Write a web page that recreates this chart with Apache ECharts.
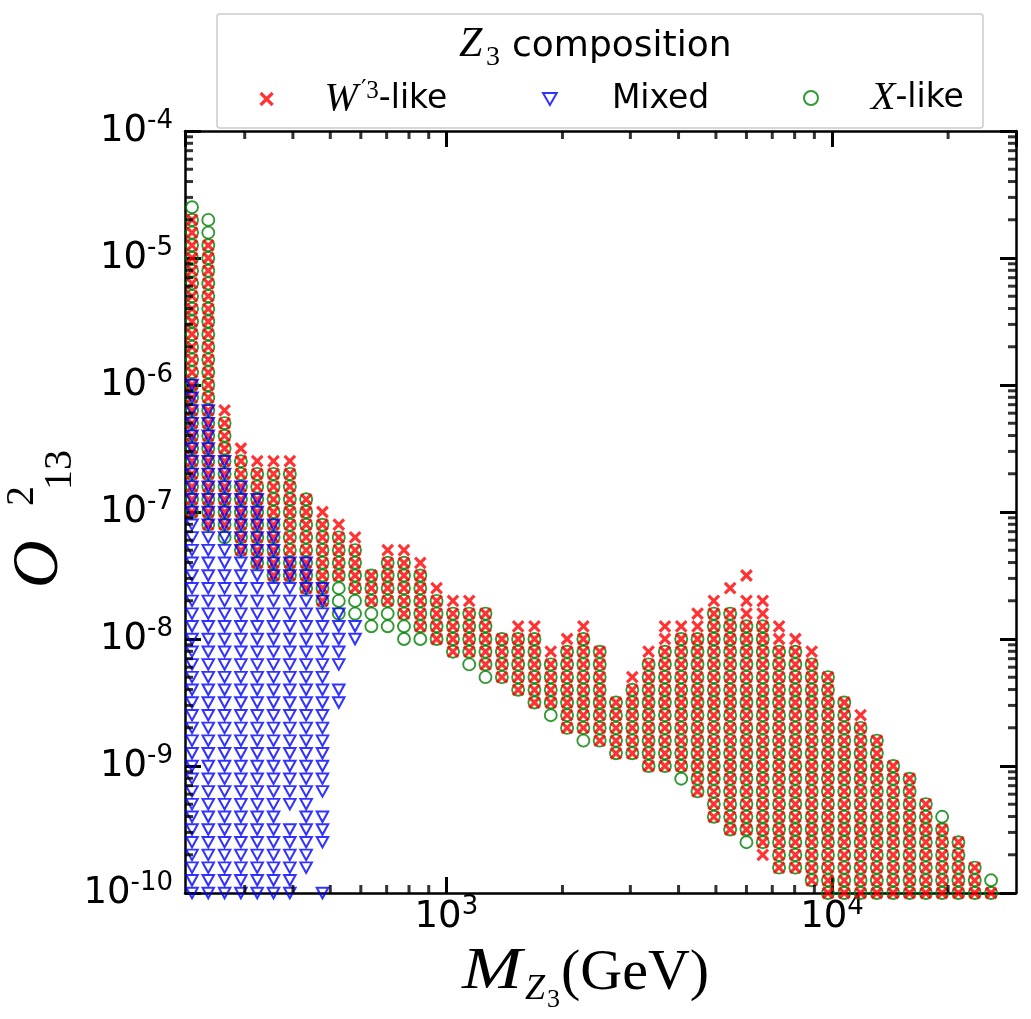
<!DOCTYPE html>
<html>
<head>
<meta charset="utf-8">
<script src="https://cdn.jsdelivr.net/npm/echarts@6.0.0/dist/echarts.min.js"></script>
<style>
html,body{margin:0;padding:0;background:#ffffff;}
#chart{width:1031px;height:1019px;}
</style>
</head>
<body>
<div id="chart"></div>
<script>
// Mass grid of the scan (GeV): one entry per column of markers
const massGeV = [219.0, 241.3, 266.0, 293.2, 323.2, 356.3, 392.7, 432.9, 477.2, 526.0,
  579.7, 639.0, 704.4, 776.4, 855.8, 943.3, 1040, 1146, 1263, 1393,
  1535, 1692, 1865, 2056, 2266, 2498, 2753, 3035, 3345, 3687,
  4064, 4480, 4938, 5443, 6000, 6613, 7289, 8035, 8856, 9762,
  10760, 11860, 13070, 14410, 15890, 17510, 19300, 21270, 23450, 25850];

// Visible markers per mass column, written as runs [lowest, highest] of 10*log10(O13^2);
// the scan has one point every 0.1 decade inside each run.
const wPrimeLikeRuns = [
  [[-70,-47]], [[-71,-49]], [[-71,-62]], [[-73,-65]], [[-74,-66]],
  [[-75,-66]], [[-75,-66]], [[-76,-69]], [[-77,-70]], [[-75,-71]],
  [[-76,-72]], [[-77,-75]], [[-77,-73]], [[-78,-73]], [[-79,-74]],
  [[-80,-76]], [[-81,-77]], [[-81,-77]], [[-82,-78]], [[-83,-80]],
  [[-84,-79]], [[-85,-79]], [[-85,-81]], [[-87,-80]], [[-87,-79]],
  [[-88,-81]], [[-89,-85]], [[-89,-83]], [[-90,-81]], [[-90,-79]],
  [[-90,-79]], [[-92,-78]], [[-94,-77]], [[-95,-78],[-76,-76]], [[-95,-77],[-75,-75]],
  [[-97,-77]], [[-98,-79]], [[-98,-80]], [[-99,-81]], [[-100,-83]],
  [[-100,-85]], [[-100,-86]], [[-100,-88]], [[-100,-90]], [[-100,-91]],
  [[-100,-93]], [[-100,-95]], [[-100,-96]], [[-100,-98]], [[-100,-100]]
];
const mixedRuns = [
  [[-100,-60]], [[-100,-62]], [[-100,-66]], [[-100,-68]], [[-100,-69]],
  [[-100,-71]], [[-100,-95],[-93,-74]], [[-98,-74]], [[-100,-100],[-96,-94],[-92,-76]], [[-85,-84],[-82,-78]],
  [[-80,-79]]
];
const xLikeRuns = [
  [[-70,-46]], [[-71,-47]], [[-72,-63]], [[-73,-66]], [[-74,-67]],
  [[-75,-67]], [[-75,-67]], [[-76,-69]], [[-77,-71]], [[-78,-72]],
  [[-78,-73]], [[-79,-75]], [[-79,-74]], [[-80,-74]], [[-80,-75]],
  [[-80,-77]], [[-81,-78]], [[-82,-78]], [[-83,-78]], [[-83,-80]],
  [[-84,-80]], [[-85,-80]], [[-86,-82]], [[-87,-81]], [[-88,-80]],
  [[-88,-81]], [[-89,-85]], [[-89,-84]], [[-90,-82]], [[-90,-81]],
  [[-91,-80]], [[-92,-80]], [[-94,-78]], [[-95,-78]], [[-96,-79]],
  [[-96,-79]], [[-98,-81]], [[-98,-81]], [[-99,-82]], [[-100,-83]],
  [[-100,-85]], [[-100,-87]], [[-100,-88]], [[-100,-90]], [[-100,-91]],
  [[-100,-93]], [[-100,-94]], [[-100,-96]], [[-100,-98]], [[-100,-99]]
];

// Axis ranges and ticks
const xRange = [210, 30000];
const yRange = [1e-10, 1e-4];
const xMinorTicks = [300, 400, 500, 600, 700, 800, 900, 2000, 3000, 4000, 5000, 6000, 7000, 8000, 9000, 20000];
const yMinorMantissas = [2, 3, 4, 5, 6, 7, 8, 9];
const yDecadeExponents = [-10, -9, -8, -7, -6, -5];
const legendNames = ['W-like', 'Mixed', 'X-like'];

function expand(runs) {
  const pts = [];
  runs.forEach(function (colRuns, i) {
    colRuns.forEach(function (run) {
      for (let t = run[0]; t <= run[1]; t++) pts.push([massGeV[i], Math.pow(10, t / 10)]);
    });
  });
  return pts;
}
const yMinorTicks = [];
yDecadeExponents.forEach(function (e) {
  yMinorMantissas.forEach(function (m) { yMinorTicks.push(m * Math.pow(10, e)); });
});

const FONT = 'DejaVu Sans';
const SERIF = 'Liberation Serif';

function powLabel(v) {
  const l = Math.log10(v);
  const e = Math.round(l);
  if (Math.abs(l - e) > 1e-6) return '';
  return '{b|10}{s|' + e + '}';
}
const labelRich = {
  b: {fontFamily: FONT, fontSize: 37, lineHeight: 46, color: '#000'},
  s: {fontFamily: FONT, fontSize: 26, lineHeight: 26, verticalAlign: 'top', color: '#000'}
};
const spine = {show: true, onZero: false, lineStyle: {color: '#000', width: 2.5}};
const majorTick = {show: true, inside: true, length: 16, lineStyle: {color: '#000', width: 3}};

function mt(str, x, baseline, size, family, italic, sx) {
  return {
    type: 'text', x: x, y: baseline - 0.34 * size, scaleX: sx || 1, silent: true,
    style: {text: str, fontSize: size, fontFamily: family, fontStyle: italic ? 'italic' : 'normal',
      fill: '#000', align: 'left', verticalAlign: 'middle'}
  };
}

const tickSeriesBase = {type: 'scatter', silent: true, clip: false, symbol: 'rect', z: 8,
  itemStyle: {color: '#000'}, emphasis: {disabled: true}, animation: false};

const chart = echarts.init(document.getElementById('chart'), null, {renderer: 'canvas'});
chart.setOption({
  backgroundColor: '#ffffff',
  animation: false,
  grid: {left: 185, right: 15, top: 131, bottom: 126, containLabel: false, outerBoundsMode: 'none'},
  xAxis: [
    {type: 'log', logBase: 10, min: xRange[0], max: xRange[1], position: 'bottom',
      axisLine: spine, axisTick: majorTick, splitLine: {show: false},
      axisLabel: {show: true, margin: 1, formatter: powLabel, rich: labelRich, showMinLabel: false, showMaxLabel: false}},
    {type: 'log', logBase: 10, min: xRange[0], max: xRange[1], position: 'top',
      axisLine: spine, axisTick: majorTick, splitLine: {show: false}, axisLabel: {show: false}}
  ],
  yAxis: [
    {type: 'log', logBase: 10, min: yRange[0], max: yRange[1], position: 'left',
      axisLine: spine, axisTick: majorTick, splitLine: {show: false},
      axisLabel: {show: true, margin: 12, formatter: powLabel, rich: labelRich}},
    {type: 'log', logBase: 10, min: yRange[0], max: yRange[1], position: 'right',
      axisLine: spine, axisTick: majorTick, splitLine: {show: false}, axisLabel: {show: false}}
  ],
  legend: [
    {data: [{name: legendNames[0], icon: 'path://M0,0L10,10M10,0L0,10'}], left: 259, top: 79, padding: 0,
      itemWidth: 106, itemHeight: 12, selectedMode: false,
      itemStyle: {color: 'rgba(0,0,0,0)', borderColor: '#ff0000', borderWidth: 3.2},
      formatter: function () { return '{w|W}{p|′}{s|3}{t|-like}'; },
      textStyle: {lineHeight: 40, rich: {
        w: {fontFamily: SERIF, fontStyle: 'italic', fontSize: 40, lineHeight: 40, color: '#000'},
        p: {fontFamily: FONT, fontSize: 24, lineHeight: 24, verticalAlign: 'top', color: '#000', padding: [0, 0, 0, 3]},
        s: {fontFamily: SERIF, fontSize: 25, lineHeight: 25, verticalAlign: 'top', color: '#000'},
        t: {fontFamily: FONT, fontSize: 33, lineHeight: 40, color: '#000'}}}},
    {data: [{name: legendNames[1], icon: 'path://M0,0L10,0L5,8.7Z'}], left: 542, top: 79, padding: 0,
      itemWidth: 114, itemHeight: 12, selectedMode: false,
      itemStyle: {color: 'rgba(0,0,0,0)', borderColor: '#0000ff', borderWidth: 2},
      textStyle: {fontFamily: FONT, fontSize: 33, lineHeight: 40, color: '#000'}},
    {data: [{name: legendNames[2], icon: 'circle'}], left: 803, top: 78, padding: 0,
      itemWidth: 110, itemHeight: 14, selectedMode: false,
      itemStyle: {color: 'rgba(0,0,0,0)', borderColor: '#008000', borderWidth: 2},
      formatter: function () { return '{x|X}{t|-like}'; },
      textStyle: {lineHeight: 40, rich: {
        x: {fontFamily: SERIF, fontStyle: 'italic', fontSize: 40, lineHeight: 40, color: '#000'},
        t: {fontFamily: FONT, fontSize: 33, lineHeight: 40, color: '#000'}}}}
  ],
  graphic: [
    {type: 'rect', z: 0, silent: true, shape: {x: 217, y: 14, width: 766, height: 114, r: 3},
      style: {fill: '#ffffff', stroke: '#cccccc', lineWidth: 1.5}},
    mt('Z', 459, 59, 42, SERIF, true),
    mt('3', 486, 67, 28, SERIF, false),
    mt('composition', 512, 59, 36, FONT, false),
    // x-axis title
    mt('M', 462, 993, 60, SERIF, true, 1.2),
    mt('Z', 525, 1002, 36, SERIF, true),
    mt('3', 547, 1009, 26, SERIF, false),
    mt('(GeV)', 561, 993, 58, SERIF, false),
    // y-axis title, rotated
    {type: 'group', x: 62, y: 588, rotation: Math.PI / 2, children: [
      mt('O', 0, 0, 66, SERIF, true),
      mt('2', 82, -26, 40, SERIF, false),
      mt('13', 98, 12, 40, SERIF, false)
    ]}
  ],
  series: [
    {type: 'scatter', name: legendNames[2], z: 3, symbol: 'circle', symbolSize: 12,
      silent: true, animation: false, progressive: 0, emphasis: {disabled: true},
      itemStyle: {color: 'rgba(0,0,0,0)', borderColor: '#008000', borderWidth: 1.9},
      data: expand(xLikeRuns)},
    {type: 'scatter', name: legendNames[0], z: 4, symbol: 'path://M0,0L10,10M10,0L0,10', symbolSize: 10.5,
      silent: true, animation: false, progressive: 0, emphasis: {disabled: true},
      itemStyle: {color: 'rgba(0,0,0,0)', borderColor: '#ff0000', borderWidth: 3.2},
      data: expand(wPrimeLikeRuns)},
    {type: 'scatter', name: legendNames[1], z: 5, symbol: 'path://M0,0L10,0L5,8.7Z', symbolSize: [11.5, 10.5],
      silent: true, animation: false, progressive: 0, emphasis: {disabled: true},
      itemStyle: {color: 'rgba(0,0,0,0)', borderColor: '#0000ff', borderWidth: 2},
      data: expand(mixedRuns)},
    Object.assign({}, tickSeriesBase, {name: 'minor-bottom', symbolSize: [3, 8], symbolOffset: [0, -4],
      data: xMinorTicks.map(function (v) { return [v, yRange[0]]; })}),
    Object.assign({}, tickSeriesBase, {name: 'minor-top', symbolSize: [3, 8], symbolOffset: [0, 4],
      data: xMinorTicks.map(function (v) { return [v, yRange[1]]; })}),
    Object.assign({}, tickSeriesBase, {name: 'minor-left', symbolSize: [8, 3], symbolOffset: [4, 0],
      data: yMinorTicks.map(function (v) { return [xRange[0], v]; })}),
    Object.assign({}, tickSeriesBase, {name: 'minor-right', symbolSize: [8, 3], symbolOffset: [-4, 0],
      data: yMinorTicks.map(function (v) { return [xRange[1], v]; })})
  ]
});
</script>
</body>
</html>
